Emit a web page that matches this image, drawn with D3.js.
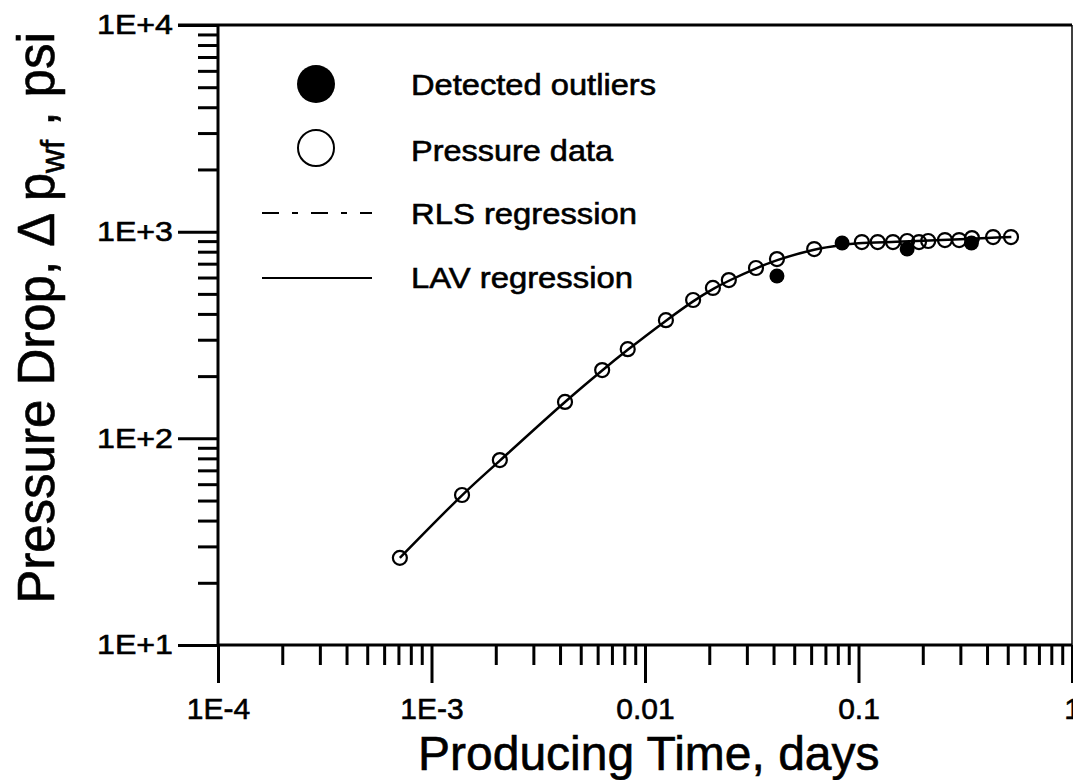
<!DOCTYPE html>
<html>
<head>
<meta charset="utf-8">
<script src="https://cdn.jsdelivr.net/npm/d3@7"></script>
<style>
  html, body { margin: 0; padding: 0; background: #fff; }
  svg { display: block; }
  text { font-family: "Liberation Sans", Arial, Helvetica, sans-serif; fill: #000; stroke: #000; stroke-width: 0.6px; }
</style>
</head>
<body>
<svg id="chart" width="1073" height="780"></svg>
<script>
// ---- Data ----
// Pressure data (open circles): producing time (days) and pressure drop (psi)
const dataTime = [0.000711, 0.00139, 0.00209, 0.00422, 0.0063, 0.0083, 0.01253, 0.0168, 0.0208, 0.0247, 0.0331, 0.0415, 0.062, 0.1037, 0.123, 0.145, 0.169, 0.192, 0.212, 0.254, 0.296, 0.34, 0.427, 0.518];
const dataDp   = [26.4, 53.2, 78.5, 150, 214, 270, 373, 467, 534, 583, 667, 737, 824, 891, 891, 891, 901, 891, 901, 911, 911, 931, 942, 942];

// Detected outliers (filled circles)
const outTime = [0.0415, 0.0838, 0.169, 0.338];
const outDp   = [610, 881, 824, 881];

// LAV regression curve
const lavTime = [0.000711, 0.00139, 0.00209, 0.00422, 0.0063, 0.0083, 0.0125, 0.0168, 0.021, 0.025, 0.033, 0.042, 0.062, 0.084, 0.1, 0.15, 0.2, 0.3, 0.4, 0.52];
const lavDp   = [26.4, 53, 78, 150, 213, 268, 370, 460, 530, 582, 663, 730, 818, 862, 878, 893, 903, 918, 932, 943];

// Axis ticks
const xMajor = [1e-4, 1e-3, 1e-2, 1e-1, 1];
const xMajorLabels = ["1E-4", "1E-3", "0.01", "0.1", "1"];
const yMajor = [10, 100, 1000, 10000];
const yMajorLabels = ["1E+1", "1E+2", "1E+3", "1E+4"];

// Legend entries
const legendLabels = ["Detected outliers", "Pressure data", "RLS regression", "LAV regression"];

// ---- Chart ----
const svg = d3.select("#chart");
const x = d3.scaleLog().domain([1e-4, 1]).range([218, 1072]);
const y = d3.scaleLog().domain([10, 1e4]).range([645, 25]);

function minorTicks(majors) {
  const out = [];
  for (let i = 0; i < majors.length - 1; i++) {
    for (let k = 2; k <= 9; k++) out.push(majors[i] * k);
  }
  return out;
}
const xMinor = minorTicks(xMajor);
const yMinor = minorTicks(yMajor);

// Frame: top and right borders
svg.append("line").attr("x1", 178).attr("x2", x(1)).attr("y1", y(1e4)).attr("y2", y(1e4))
  .attr("stroke", "#000").attr("stroke-width", 3);
svg.append("line").attr("x1", x(1)).attr("x2", x(1)).attr("y1", y(1e4)).attr("y2", y(10))
  .attr("stroke", "#000").attr("stroke-width", 1.5);

// X axis
const gx = svg.append("g").attr("transform", `translate(0,${y(10)})`);
gx.append("g").call(d3.axisBottom(x).tickValues(xMinor).tickSize(20).tickFormat("").tickSizeOuter(0))
  .call(g => g.select(".domain").remove());
gx.append("g").call(d3.axisBottom(x).tickValues(xMajor).tickSize(38).tickPadding(15).tickSizeOuter(0)
    .tickFormat((d, i) => xMajorLabels[i]))
  .call(g => g.select(".domain").remove());
gx.selectAll("line").attr("stroke", "#000").attr("stroke-width", 3);
gx.selectAll("text").attr("font-size", 30).style("font-family", "'Liberation Sans', Arial, sans-serif").attr("fill", "#000");
gx.append("line").attr("x1", x(1e-4)).attr("x2", x(1)).attr("stroke", "#000").attr("stroke-width", 3);

// Y axis
const gy = svg.append("g").attr("transform", `translate(${x(1e-4)},0)`);
gy.append("g").call(d3.axisLeft(y).tickValues(yMinor).tickSize(20).tickFormat("").tickSizeOuter(0))
  .call(g => g.select(".domain").remove());
gy.append("g").call(d3.axisLeft(y).tickValues(yMajor).tickSize(40).tickPadding(5).tickSizeOuter(0)
    .tickFormat((d, i) => yMajorLabels[i]))
  .call(g => g.select(".domain").remove());
gy.selectAll("line").attr("stroke", "#000").attr("stroke-width", 3);
gy.selectAll("text").attr("font-size", 28).style("font-family", "'Liberation Sans', Arial, sans-serif")
  .attr("fill", "#000").attr("textLength", 76).attr("lengthAdjust", "spacingAndGlyphs");
gy.append("line").attr("y1", y(1e4)).attr("y2", y(10)).attr("stroke", "#000").attr("stroke-width", 3);

// LAV regression line
const line = d3.line().x((d, i) => x(lavTime[i])).y((d, i) => y(lavDp[i])).curve(d3.curveCatmullRom);
svg.append("path").datum(lavDp).attr("d", line)
  .attr("fill", "none").attr("stroke", "#000").attr("stroke-width", 2.5);

// Pressure data (open circles)
svg.append("g").selectAll("circle").data(dataDp).join("circle")
  .attr("cx", (d, i) => x(dataTime[i])).attr("cy", d => y(d)).attr("r", 7)
  .attr("fill", "none").attr("stroke", "#000").attr("stroke-width", 2.2);

// Outliers (filled)
svg.append("g").selectAll("circle").data(outDp).join("circle")
  .attr("cx", (d, i) => x(outTime[i])).attr("cy", d => y(d)).attr("r", 7.5)
  .attr("fill", "#000");

// Legend
const lg = svg.append("g");
lg.append("circle").attr("cx", 316).attr("cy", 84).attr("r", 19).attr("fill", "#000");
lg.append("circle").attr("cx", 316).attr("cy", 148).attr("r", 18).attr("fill", "none").attr("stroke", "#000").attr("stroke-width", 2);
lg.append("line").attr("x1", 262).attr("x2", 372).attr("y1", 213).attr("y2", 213)
  .attr("stroke", "#000").attr("stroke-width", 2).attr("stroke-dasharray", "17,13,6,13");
lg.append("line").attr("x1", 262).attr("x2", 372).attr("y1", 278).attr("y2", 278)
  .attr("stroke", "#000").attr("stroke-width", 2);
const legendY = [95, 161, 224, 288];
const legendW = [245, 202, 226, 222];
lg.selectAll("text.leg").data(legendLabels).join("text").attr("class", "leg")
  .attr("x", 411).attr("y", (d, i) => legendY[i]).attr("font-size", 30)
  .attr("textLength", (d, i) => legendW[i]).attr("lengthAdjust", "spacingAndGlyphs")
  .text(d => d);

// Axis titles
svg.append("text").attr("x", 418).attr("y", 770).attr("font-size", 48).text("Producing Time, days");

const yt = svg.append("text").attr("transform", "translate(54,318) rotate(-90)")
  .attr("text-anchor", "middle").attr("font-size", 51);
yt.append("tspan").text("Pressure Drop, \u0394 p");
yt.append("tspan").attr("font-size", 33).attr("dy", 10).text("wf");
yt.append("tspan").attr("dy", -10).text(" , psi");
</script>
</body>
</html>
